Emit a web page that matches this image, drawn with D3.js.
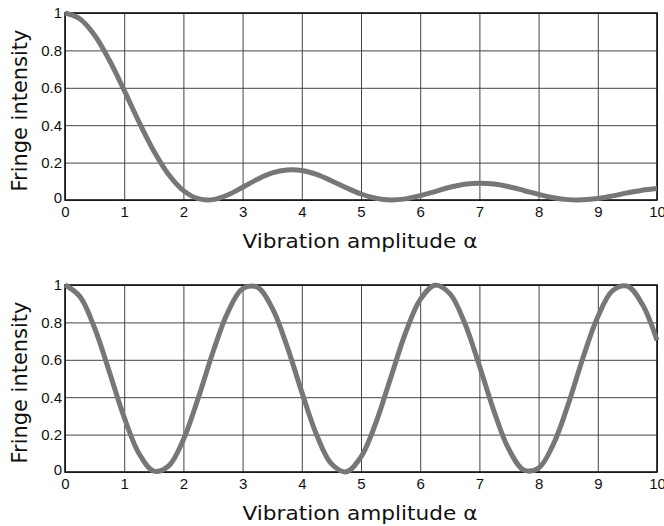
<!DOCTYPE html>
<html>
<head>
<meta charset="utf-8">
<script src="https://cdn.jsdelivr.net/npm/d3@7"></script>
<style>
  body { margin:0; background:#fff; }
  svg { display:block; }
  .tick text { font-family:"Liberation Sans", Arial, sans-serif; font-size:15px; fill:#111; }
  .aTitle { font-family:"DejaVu Sans", sans-serif; fill:#111; }
</style>
</head>
<body>
<div id="chart"></div>
<script>
var alphaVals = [0,0.25,0.5,0.75,1,1.25,1.5,1.75,2,2.25,2.5,2.75,3,3.25,3.5,3.75,4,4.25,4.5,4.75,
  5,5.25,5.5,5.75,6,6.25,6.5,6.75,7,7.25,7.5,7.75,8,8.25,8.5,8.75,9,9.25,9.5,9.75,10];

var topVals = [1,0.969,0.881,0.747,0.586,0.417,0.262,0.136,0.050,0.007,0.002,0.027,0.068,0.111,0.145,0.161,
  0.158,0.137,0.103,0.066,0.032,0.009,0.000,0.006,0.023,0.045,0.068,0.084,0.090,0.085,0.071,0.051,
  0.030,0.012,0.002,0.001,0.008,0.022,0.038,0.052,0.061];

var bottomVals = [1,0.939,0.770,0.535,0.292,0.099,0.005,0.032,0.173,0.395,0.642,0.854,0.980,0.988,0.877,0.673,
  0.427,0.199,0.044,0.001,0.081,0.262,0.502,0.742,0.922,0.999,0.954,0.798,0.568,0.322,0.120,0.011,
  0.021,0.149,0.362,0.611,0.830,0.970,0.994,0.898,0.704];

var xTicks = [0,1,2,3,4,5,6,7,8,9,10];
var yTicks = [0,0.2,0.4,0.6,0.8,1];

var svgWidth = 664,
	svgHeight = 526;

var svg = d3.select('#chart')
	.append('svg')
	.attr('width', svgWidth)
	.attr('height', svgHeight);

var left = 65, right = 657;

var xScale = d3.scaleLinear().domain([0, 10]).range([left, right]);

function drawPanel(vals, top, bottom) {
	var yScale = d3.scaleLinear().domain([0, 1]).range([bottom, top]);
	var g = svg.append('g');

	// grid via axes
	var xAxis = g.append('g')
		.attr('transform', `translate(0,${bottom})`)
		.call(d3.axisBottom(xScale).tickValues(xTicks).tickFormat(d3.format('d'))
			.tickSizeInner(-(bottom - top)).tickSizeOuter(0).tickPadding(6));
	xAxis.select('.domain').remove();
	xAxis.selectAll('.tick line').attr('stroke', '#444').attr('stroke-width', 1);

	var yAxis = g.append('g')
		.attr('transform', `translate(${left},0)`)
		.call(d3.axisLeft(yScale).tickValues(yTicks).tickFormat(d => d === 0 || d === 1 ? d3.format('d')(d) : d3.format('.1f')(d))
			.tickSizeInner(-(right - left)).tickSizeOuter(0).tickPadding(3));
	yAxis.select('.domain').remove();
	yAxis.selectAll('.tick line').attr('stroke', '#444').attr('stroke-width', 1);
	yAxis.selectAll('.tick text').filter(d => d === 0).attr('dy', '0.15em');

	g.append('rect')
		.attr('x', left).attr('y', top)
		.attr('width', right - left).attr('height', bottom - top)
		.attr('fill', 'none').attr('stroke', '#111').attr('stroke-width', 1.6);

	var line = d3.line()
		.x((d, i) => xScale(alphaVals[i]))
		.y(d => yScale(d))
		.curve(d3.curveCatmullRom);

	g.append('path')
		.datum(vals)
		.attr('d', line)
		.attr('fill', 'none')
		.attr('stroke', '#777')
		.attr('stroke-width', 5)
		.attr('stroke-linejoin', 'round');

	g.append('text')
		.attr('class', 'aTitle')
		.attr('x', (left + right) / 2 - 1)
		.attr('y', bottom + 48)
		.attr('text-anchor', 'middle')
		.attr('font-size', 20)
		.attr('textLength', 235)
		.attr('lengthAdjust', 'spacingAndGlyphs')
		.text('Vibration amplitude α');

	g.append('text')
		.attr('class', 'aTitle')
		.attr('transform', `translate(27,${(top + bottom) / 2 + 4})rotate(-90)`)
		.attr('text-anchor', 'middle')
		.attr('font-size', 21)
		.attr('textLength', 162)
		.attr('lengthAdjust', 'spacingAndGlyphs')
		.text('Fringe intensity');
}

drawPanel(topVals, 13, 200);
drawPanel(bottomVals, 285, 472);
</script>
</body>
</html>
